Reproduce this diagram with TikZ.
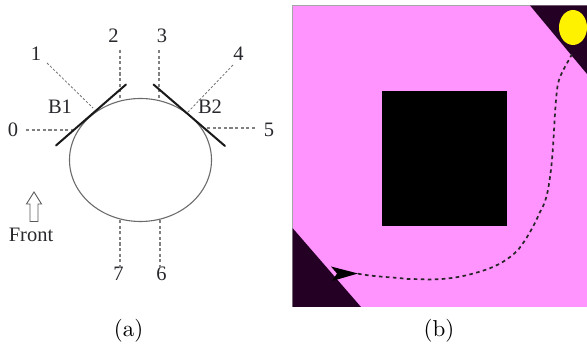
\documentclass[tikz,border=0pt]{standalone}
\usepackage{fontspec}
\usetikzlibrary{shapes.geometric}
\setmainfont{Liberation Serif}
\newfontfamily\capfont{lmroman10-regular.otf}
\definecolor{bgpink}{RGB}{255,148,255}
\definecolor{darkzone}{RGB}{36,0,36}
\definecolor{inkgray}{RGB}{40,40,45}
\tikzset{
  lbl/.style={inner sep=0pt,text=inkgray,font=\fontsize{20.5}{24}\selectfont},
  capt/.style={inner sep=0pt,font=\capfont\fontsize{23}{27}\selectfont},
  beam/.style={dash pattern=on 3.2pt off 2.4pt,line width=1.1pt,draw=black!50},
  beamthin/.style={dash pattern=on 2.4pt off 1.8pt,line width=0.8pt,draw=black!55},
  bumper/.style={line width=2pt,draw=black!90,line cap=round},
  traj/.style={dash pattern=on 3.6pt off 3.4pt,line width=1.7pt,draw=black!85},
}
\begin{document}
\begin{tikzpicture}[x=1pt,y=-1pt]
\useasboundingbox (0,0) rectangle (587,344);
% ---------- (a) ----------
\node[draw=black!58,line width=1.1pt,ellipse,minimum width=142pt,minimum height=123pt,inner sep=0pt] (body) at (140.5,160) {};
\node[lbl] (n0) at (13,129.5) {0};
\node[lbl] (n1) at (36,54) {1};
\node[lbl] (n2) at (113.5,36) {2};
\node[lbl] (n3) at (162,36) {3};
\node[lbl] (n4) at (238.5,54) {4};
\node[lbl] (n5) at (269,129.5) {5};
\node[lbl] (n6) at (161.5,274) {6};
\node[lbl] (n7) at (118.5,274) {7};
\node[lbl] (b1) at (60,107) {B1};
\node[lbl] (b2) at (210,107) {B2};
\node[lbl] (front) at (31,235) {Front};
\coordinate (e0) at (75,130);
\coordinate (e1) at (93,108);
\coordinate (e2) at (120,99);
\coordinate (e3) at (159,99);
\coordinate (e4) at (188,112);
\coordinate (e5) at (205,128);
\coordinate (e6) at (160,219);
\coordinate (e7) at (120,219);
\coordinate (s0) at (26,130);
\coordinate (s1) at (47,63);
\coordinate (s2) at (120,50);
\coordinate (s3) at (159,50);
\coordinate (s4) at (233,65);
\coordinate (s5) at (255,128);
\coordinate (s6) at (160,268);
\coordinate (s7) at (120,268);
\draw[beam] (s0) -- (e0);
\draw[beamthin] (s1) -- (e1);
\draw[beam] (s2) -- (e2);
\draw[beam] (s3) -- (e3);
\draw[beamthin] (s4) -- (e4);
\draw[beam] (s5) -- (e5);
\draw[beam] (s6) -- (e6);
\draw[beam] (s7) -- (e7);
\coordinate (b1a) at (56,145.5);
\coordinate (b1b) at (126,84.5);
\coordinate (b2a) at (153.5,84.5);
\coordinate (b2b) at (225,146);
\draw[bumper] (b1a) -- (b1b);
\draw[bumper] (b2a) -- (b2b);
\draw[black!65,line width=0.9pt,line join=miter] (30,221.5) -- (30,204) -- (26.5,204) -- (34,192) -- (41.5,204) -- (38,204) -- (38,221.5) -- cycle;
\node[capt] (capa) at (128.5,331) {(a)};
% ---------- (b) ----------
\fill[bgpink] (292.5,6) rectangle (587,307);
\draw[black!35,line width=1pt] (292.5,307) -- (292.5,6) -- (530,6);
\fill[darkzone] (530,5.5) -- (587,5.5) -- (587,74) -- cycle;
\fill[darkzone] (292.5,228) -- (361,307) -- (292.5,307) -- cycle;
\fill[black] (382,91) rectangle (506.5,226);
\node[fill=yellow,ellipse,inner sep=0pt,minimum width=28pt,minimum height=35pt] (robot) at (573,27.5) {};
\coordinate (trs) at (572,54);
\coordinate (tre) at (357,273.5);
\draw[traj] (trs) .. controls (566,66) and (558,76) .. (557,90)
  .. controls (554,115) and (554,150) .. (550,177)
  .. controls (548,192) and (546,202) .. (540,212)
  .. controls (534,226) and (526,240) .. (518,250)
  .. controls (508,260) and (497,266) .. (485,270)
  .. controls (470,275) and (456,278) .. (442,279)
  .. controls (430,280) and (420,279) .. (408,279)
  .. controls (392,277) and (375,277) .. (tre);
\fill[black] (358,273.5) -- (331,266.5) -- (337,273.5) -- (332,281) -- cycle;
\node[capt] (capb) at (439,331) {(b)};
\end{tikzpicture}
\end{document}
